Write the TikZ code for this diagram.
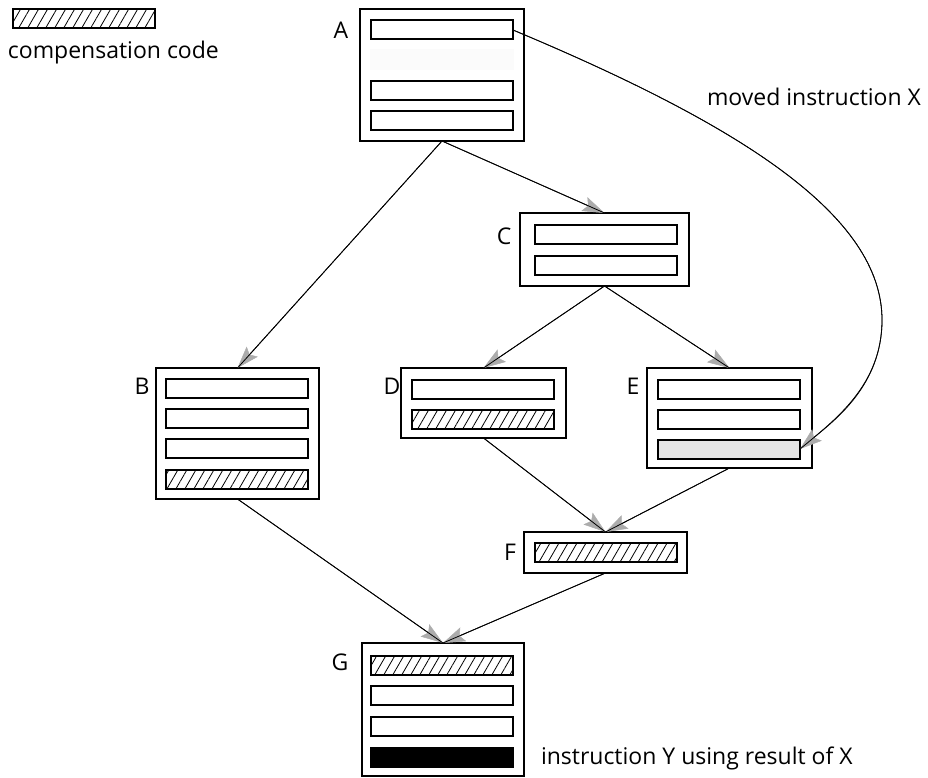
\documentclass[tikz,border=0pt]{standalone}
\usepackage{fontspec}
\setmainfont{Open Sans}
\usetikzlibrary{arrows.meta,patterns.meta}
\begin{document}
\begin{tikzpicture}[x=1pt,y=-1pt,
  every node/.style={font=\fontsize{23pt}{27pt}\selectfont, inner sep=0pt, outer sep=0pt},
  block/.style={draw, line width=2.5pt},
  bar/.style={draw, line width=2pt, minimum width=142pt, minimum height=19pt},
  hatchbar/.style={bar, pattern={Lines[angle=60,distance=7.8pt,line width=0.8pt]}},
  movedbar/.style={bar, fill=gray!20},
  ghostbar/.style={fill=gray!3, minimum width=144pt, minimum height=21pt},
  usebar/.style={fill=black, minimum width=144pt, minimum height=21pt},
  lbl/.style={anchor=center},
  arr/.style={line width=0.8pt,
              -{Stealth[length=22pt,width=15pt,inset=4pt,color=gray!65,fill=gray!65,line width=0.5pt]},
              postaction={draw, line width=0.8pt, arrows=-}}]
\useasboundingbox (0,0) rectangle (928,778);

% legend
\node[hatchbar] (key) at (84,18.5) {};
\node[anchor=west] (keytext) at (8,53) {compensation code};

% basic blocks
\node[block, minimum width=164pt, minimum height=132pt] (A) at (442,75) {};
\node[block, minimum width=163pt, minimum height=131pt] (B) at (237.5,433.5) {};
\node[block, minimum width=169pt, minimum height=73pt]  (C) at (604.5,249.5) {};
\node[block, minimum width=165pt, minimum height=70pt]  (D) at (483.5,403) {};
\node[block, minimum width=165pt, minimum height=100pt] (E) at (729.5,418) {};
\node[block, minimum width=163pt, minimum height=41pt]  (F) at (605.5,552.5) {};
\node[block, minimum width=162pt, minimum height=133pt] (G) at (443,709.5) {};

% instructions inside the blocks
\node[bar]      (A1) at (442,30) {};
\node[ghostbar] (A2) at (442,60) {};
\node[bar]      (A3) at (442,91) {};
\node[bar]      (A4) at (442,121) {};

\node[bar]      (B1) at (236.5,388) {};
\node[bar]      (B2) at (236.5,418) {};
\node[bar]      (B3) at (236.5,448) {};
\node[hatchbar] (B4) at (236.5,479) {};

\node[bar]      (C1) at (605.5,234) {};
\node[bar]      (C2) at (605.5,265) {};

\node[bar]      (D1) at (483,389) {};
\node[hatchbar] (D2) at (483,419) {};

\node[bar]      (E1) at (729,389) {};
\node[bar]      (E2) at (729,419) {};
\node[movedbar] (E3) at (729,449) {};

\node[hatchbar] (F1) at (605.5,552.5) {};

\node[hatchbar] (G1) at (441.5,665) {};
\node[bar]      (G2) at (441.5,695.5) {};
\node[bar]      (G3) at (441.5,726.5) {};
\node[usebar]   (G4) at (441.5,757) {};

% block labels
\node[lbl] (labA) at (341,30) {A};
\node[lbl] (labB) at (142,386) {B};
\node[lbl] (labC) at (504,236) {C};
\node[lbl] (labD) at (392,386) {D};
\node[lbl] (labE) at (633,386) {E};
\node[lbl] (labF) at (510,552) {F};
\node[lbl] (labG) at (340,662) {G};

\node[anchor=west] (movedtext) at (707,97) {moved instruction X};
\node[anchor=west] (usetext) at (541,758) {instruction Y using result of X};

% control flow
\draw[arr] (A.south) -- (C.north);
\draw[arr] (A.south) -- (B.north);
\draw[arr] (C.south) -- (D.north);
\draw[arr] (C.south) -- (E.north);
\draw[arr] (D.south) -- (F.north);
\draw[arr] (E.south) -- (F.north);
\draw[arr] (B.south) -- (G.north);
\draw[arr] (F.south) -- (G.north);

% motion of instruction X
\draw[arr] (A1.east) .. controls (740,125) and (882,215) .. (882,320)
           .. controls (882,385) and (835,420) .. (E3.east);
\end{tikzpicture}
\end{document}
